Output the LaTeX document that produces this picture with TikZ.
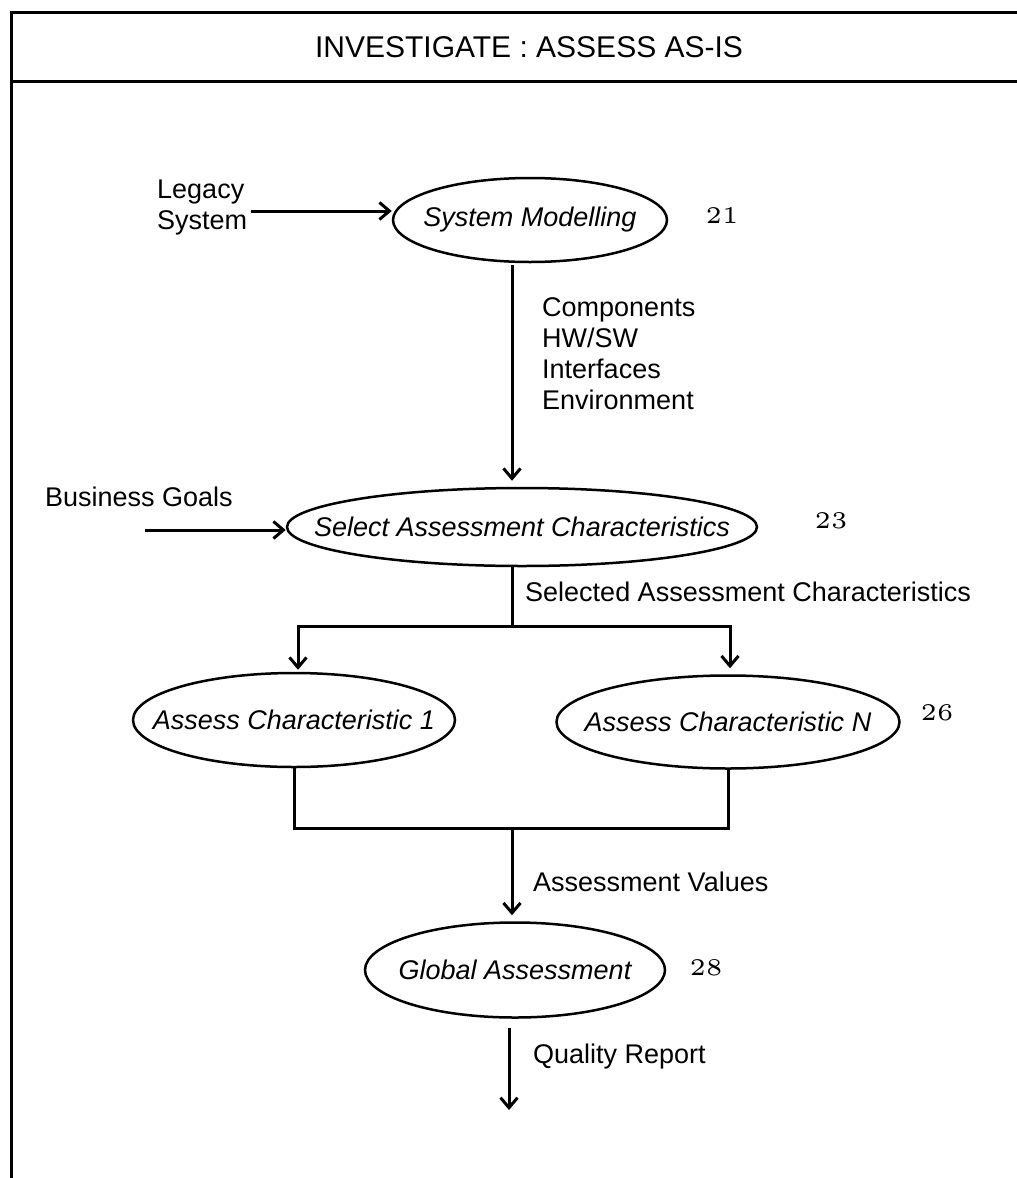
\documentclass[tikz,border=0pt]{standalone}
\usepackage{fontspec}
\setmainfont{Liberation Sans}
\newfontfamily\numfont{lmroman5-regular.otf}
\usetikzlibrary{shapes.geometric,arrows.meta}

\tikzset{
  frameline/.style={line width=3pt},
  conn/.style={line width=3pt},
  arr/.style={conn,-{Straight Barb[length=10pt,width=17pt,line width=3pt]}},
  proc/.style={ellipse,draw,line width=2.5pt,inner sep=0pt,
    font=\fontsize{27}{31}\selectfont\itshape},
  lbl/.style={inner sep=0pt,anchor=west,align=left,
    font=\fontsize{27}{31}\selectfont},
  num/.style={inner sep=0pt,font=\numfont\fontsize{24}{26}\selectfont},
}
\newcommand{\proctext}[1]{\makebox[0pt][c]{#1}}

\begin{document}
\begin{tikzpicture}[x=1pt,y=-1pt]
\useasboundingbox (0,0) rectangle (1017,1178);

% frame with title bar
\coordinate (ftl) at (11,12);
\coordinate (ftr) at (1017,12);
\coordinate (fml) at (11,81);
\coordinate (fmr) at (1017,81);
\coordinate (fbl) at (11,1178);
\draw[frameline] (ftr) -- (ftl) -- (fbl);
\draw[frameline] (fml) -- (fmr);
\node[inner sep=0pt,font=\fontsize{30}{34}\selectfont] (title) at (529,47)
  {INVESTIGATE : ASSESS AS-IS};

% processes
\node[proc,minimum width=274pt,minimum height=84pt] (sm) at (530,220)
  {\proctext{System Modelling}};
\node[proc,minimum width=470pt,minimum height=78pt] (sac) at (522,527)
  {\proctext{Select Assessment Characteristics}};
\node[proc,minimum width=322pt,minimum height=94pt] (ac1) at (294,720)
  {\proctext{Assess Characteristic 1}};
\node[proc,minimum width=343pt,minimum height=93pt] (acn) at (728,722)
  {\proctext{Assess Characteristic N}};
\node[proc,minimum width=300pt,minimum height=95pt] (ga) at (515,970)
  {\proctext{Global Assessment}};

% process numbers
\node[num] (n21) at (722,216) {21};
\node[num] (n23) at (831,521) {23};
\node[num] (n26) at (937,713) {26};
\node[num] (n28) at (706,968) {28};

% flow labels
\node[lbl] (legacy) at (157,208) {Legacy\\System};
\node[lbl] (comp) at (542,354) {Components\\HW/SW\\Interfaces\\Environment};
\node[lbl] (goals) at (45,497) {Business Goals};
\node[lbl] (selected) at (525,592) {Selected Assessment Characteristics};
\node[lbl] (values) at (533,882) {Assessment Values};
\node[lbl] (quality) at (533,1057) {Quality Report};

% connector helpers
\coordinate (trunk) at (512,0);
\coordinate (goalstart) at (145,530);
\coordinate (fork) at (512,626);
\coordinate (join) at (512,828);
\coordinate (qx) at (509,0);
\coordinate (qend) at (509,1110);
\coordinate (b1) at (298,0);
\coordinate (bn) at (730,0);

% connectors
\draw[arr,shorten <=4pt] (legacy.east |- 0,211) -- (sm.west |- 0,211);
\draw[arr,shorten >=6pt,shorten <=2pt] (sm.south -| trunk) -- (sac.north -| trunk);
\draw[arr] (goalstart) -- (sac.west |- goalstart);
\draw[conn] (sac.south -| trunk) -- (fork);
\draw[arr,shorten >=2pt] (fork) -| (ac1.north -| b1);
\draw[arr,shorten >=6pt] (fork) -| (acn.north -| bn);
\draw[conn] (ac1.south) -- (ac1.south |- join) -- (acn.south |- join) -- (acn.south);
\draw[arr,shorten >=6pt] (join) -- (ga.north -| join);
\draw[arr,shorten <=9pt] (ga.south -| qx) -- (qend);
\end{tikzpicture}
\end{document}
